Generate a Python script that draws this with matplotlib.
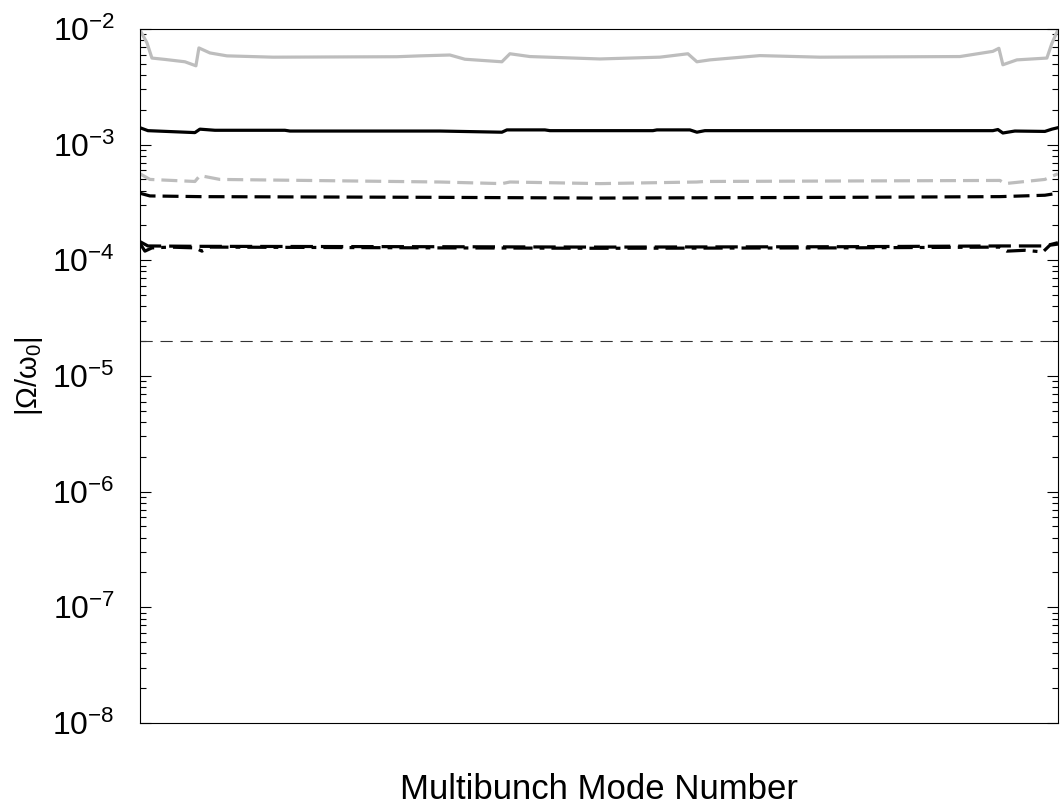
import matplotlib
matplotlib.use("Agg")
import matplotlib.pyplot as plt
from matplotlib.ticker import FixedLocator, NullFormatter, NullLocator

plt.rcParams["font.family"] = ["Liberation Sans", "DejaVu Sans"]
plt.rcParams["mathtext.fontset"] = "custom"
plt.rcParams["mathtext.rm"] = "Liberation Sans"
plt.rcParams["mathtext.it"] = "Liberation Sans:italic"
plt.rcParams["mathtext.bf"] = "Liberation Sans:bold"

# Growth rates |Omega/omega_0| versus multibunch mode number
n_modes = 918

modes_a = [0, 7, 12, 25, 45, 56, 59, 70, 87, 133, 257, 280, 310, 325, 362, 370,
           390, 460, 520, 548, 557, 570, 620, 680, 820, 853, 859, 863, 877, 907,
           912, 918]
rate_a = [9.8e-3, 7.6e-3, 5.6e-3, 5.45e-3, 5.2e-3, 4.8e-3, 6.85e-3, 6.2e-3,
          5.85e-3, 5.7e-3, 5.75e-3, 5.85e-3, 5.95e-3, 5.47e-3, 5.2e-3, 6.1e-3,
          5.77e-3, 5.5e-3, 5.7e-3, 6.1e-3, 5.2e-3, 5.4e-3, 5.88e-3, 5.7e-3,
          5.77e-3, 6.4e-3, 6.8e-3, 4.9e-3, 5.4e-3, 5.6e-3, 7.5e-3, 9.8e-3]

modes_b = [0, 8, 55, 60, 75, 145, 150, 300, 362, 367, 405, 410, 513, 517, 550,
           557, 565, 853, 858, 863, 875, 905, 912, 918]
rate_b = [1.40e-3, 1.32e-3, 1.27e-3, 1.36e-3, 1.33e-3, 1.33e-3, 1.31e-3,
          1.31e-3, 1.28e-3, 1.34e-3, 1.34e-3, 1.32e-3, 1.32e-3, 1.34e-3,
          1.34e-3, 1.28e-3, 1.32e-3, 1.32e-3, 1.35e-3, 1.26e-3, 1.31e-3,
          1.30e-3, 1.36e-3, 1.40e-3]

modes_c = [0, 10, 55, 60, 80, 300, 362, 370, 460, 557, 565, 860, 865, 905, 918]
rate_c = [5.6e-4, 5.0e-4, 4.8e-4, 5.4e-4, 5.0e-4, 4.75e-4, 4.6e-4, 4.75e-4,
          4.6e-4, 4.75e-4, 4.8e-4, 4.9e-4, 4.6e-4, 5.0e-4, 5.6e-4]

modes_d = [0, 10, 60, 300, 460, 700, 860, 905, 918]
rate_d = [3.8e-4, 3.6e-4, 3.55e-4, 3.5e-4, 3.45e-4, 3.5e-4, 3.55e-4, 3.65e-4,
          3.8e-4]

modes_e = [0, 8, 60, 300, 460, 700, 860, 905, 918]
rate_e = [1.45e-4, 1.33e-4, 1.32e-4, 1.31e-4, 1.30e-4, 1.31e-4, 1.33e-4,
          1.33e-4, 1.42e-4]

modes_f = [0, 5, 12, 30, 55, 62, 70, 300, 460, 700, 860, 867, 885, 903, 910,
           918]
rate_f = [1.40e-4, 1.20e-4, 1.28e-4, 1.30e-4, 1.28e-4, 1.20e-4, 1.30e-4,
          1.28e-4, 1.27e-4, 1.28e-4, 1.30e-4, 1.20e-4, 1.22e-4, 1.18e-4,
          1.35e-4, 1.38e-4]

threshold = 2e-5

decades = [-8, -7, -6, -5, -4, -3, -2]

fig = plt.figure(figsize=(10.6, 8.08), dpi=100)
ax = fig.add_axes([0.132, 0.1052, 0.866, 0.859])

gray = "#bdbdbd"
lw = 2.3
ax.plot(modes_a, rate_a, color=gray, lw=lw, solid_joinstyle="round")
ax.plot(modes_b, rate_b, color="black", lw=lw, solid_joinstyle="round")
ax.plot(modes_c, rate_c, color=gray, lw=lw, ls=(0, (5.0, 2.2)))
ax.plot(modes_d, rate_d, color="black", lw=lw, ls=(0, (5.0, 2.2)))
ax.plot(modes_e, rate_e, color="black", lw=lw, ls=(0, (7, 2.5)))
ax.plot(modes_f, rate_f, color="black", lw=lw, ls=(0, (6, 2.2, 1.5, 2.2)))
ax.axhline(threshold, color="#333333", lw=0.8, ls=(0, (11, 7)))

ax.set_yscale("log")
ax.set_ylim(10.0 ** decades[0], 10.0 ** decades[-1])
ax.set_xlim(0, n_modes)

major = [10.0 ** d for d in decades]
minor = [k * 10.0 ** d for d in decades[:-1] for k in range(2, 10)]
ax.yaxis.set_major_locator(FixedLocator(major))
ax.yaxis.set_minor_locator(FixedLocator(minor))
ax.yaxis.set_minor_formatter(NullFormatter())
ax.set_yticklabels([r"$10^{%d}$" % d for d in decades])
ax.xaxis.set_major_locator(NullLocator())
ax.xaxis.set_minor_locator(NullLocator())

ax.tick_params(axis="y", which="both", direction="in", left=True, right=True,
               labelsize=23, pad=18, width=0.8, color="black")
ax.tick_params(axis="y", which="major", length=8)
ax.tick_params(axis="y", which="minor", length=4.5)

for sp in ax.spines.values():
    sp.set_linewidth(0.8)
    sp.set_color("black")

ax.set_xlabel("Multibunch Mode Number", fontsize=25, labelpad=36)
ax.set_ylabel(r"$\mathrm{|\Omega/\omega_0|}$", fontsize=21, labelpad=5)

fig.savefig("out.png", dpi=100)
